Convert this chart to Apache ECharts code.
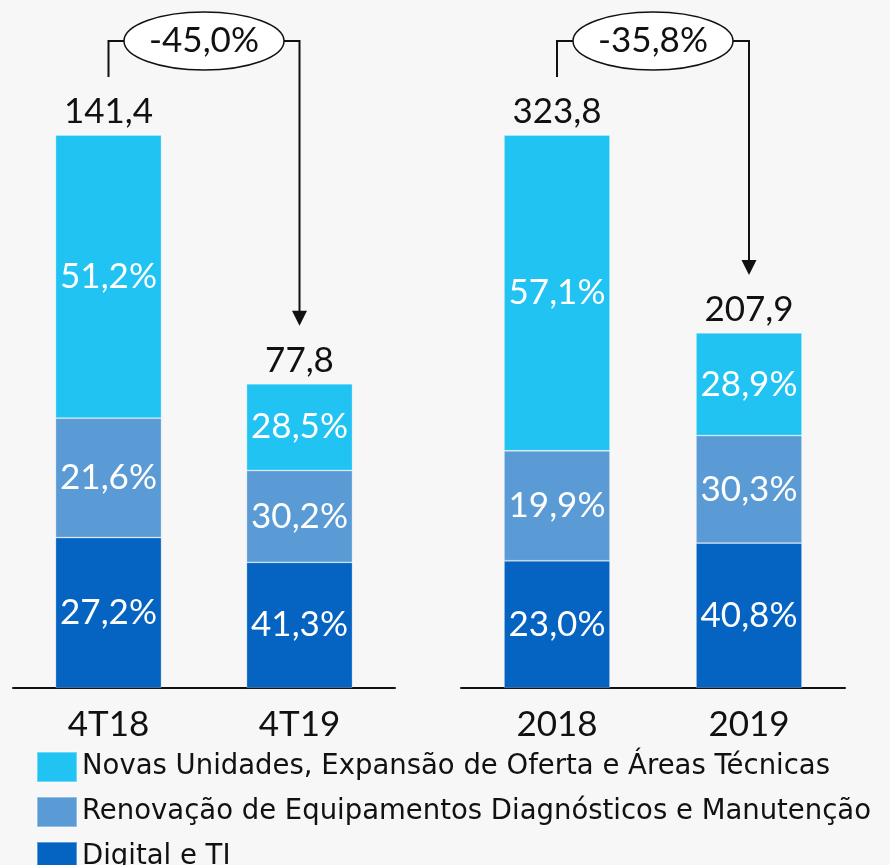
<!DOCTYPE html>
<html>
<head>
<meta charset="utf-8">
<script src="https://cdn.jsdelivr.net/npm/echarts@6/dist/echarts.min.js"></script>
<style>
  html, body { margin: 0; padding: 0; background: #f7f7f7; }
  #chart { width: 890px; height: 865px; }
</style>
</head>
<body>
<div id="chart"></div>
<script>
// valores (R$ milhões e % de participação)
const quarterCategories = ['4T18', '4T19']
const yearCategories = ['2018', '2019']
const quarterTotals = [141.4, 77.8]
const yearTotals = [323.8, 207.9]
const novasPct = [51.2, 28.5, 57.1, 28.9]
const renovacaoPct = [21.6, 30.2, 19.9, 30.3]
const digitalPct = [27.2, 41.3, 23.0, 40.8]
const variations = ['-45,0%', '-35,8%']

const seriesNames = [
  'Novas Unidades, Expansão de Oferta e Áreas Técnicas',
  'Renovação de Equipamentos Diagnósticos e Manutenção',
  'Digital e TI'
]
const colors = ['#21c3f3', '#5b9bd5', '#0563c1']
const fontFamily = "'Century Gothic', Lato, sans-serif"
const legendFont = "'Century Gothic', 'DejaVu Sans', sans-serif"
const labelSize = 35

const fmt = v => v.toFixed(1).replace('.', ',')

const chart = echarts.init(document.getElementById('chart'))

function buildSeries(gridIndex, totals, offset) {
  const pctLists = [novasPct, renovacaoPct, digitalPct]
  const list = []
  // empilha de baixo para cima: Digital, Renovação, Novas
  ;[2, 1, 0].forEach(k => {
    const pcts = pctLists[k].slice(offset, offset + 2)
    list.push({
      name: seriesNames[k],
      type: 'bar',
      stack: 'g' + gridIndex,
      xAxisIndex: gridIndex,
      yAxisIndex: gridIndex,
      barWidth: 106,
      itemStyle: { color: colors[k], borderColor: 'rgba(255,255,255,0.35)', borderWidth: 0.8 },
      label: {
        show: true,
        position: 'inside',
        color: '#fff',
        fontFamily,
        fontSize: labelSize,
        formatter: p => fmt(pcts[p.dataIndex]) + '%'
      },
      data: totals.map((t, i) => t * pcts[i] / 100)
    })
  })
  // série vazia só para o rótulo do total
  list.push({
    name: 'total' + gridIndex,
    type: 'bar',
    stack: 'g' + gridIndex,
    xAxisIndex: gridIndex,
    yAxisIndex: gridIndex,
    barWidth: 106,
    silent: true,
    itemStyle: { color: 'transparent' },
    label: {
      show: true,
      position: 'top',
      distance: 6,
      color: '#111',
      fontFamily,
      fontSize: labelSize,
      formatter: p => fmt(totals[p.dataIndex])
    },
    data: totals.map(() => 0)
  })
  return list
}

function xAxisFor(gridIndex, data) {
  return {
    type: 'category',
    gridIndex,
    data,
    axisLine: { lineStyle: { color: '#111', width: 2 } },
    axisTick: { show: false },
    axisLabel: { color: '#111', fontFamily, fontSize: labelSize, margin: 19 }
  }
}

function yAxisFor(gridIndex, max) {
  return { type: 'value', gridIndex, min: 0, max, show: false, splitLine: { show: false } }
}

// uma legenda por linha, para não quebrar em colunas
const legends = seriesNames.map((name, i) => ({
  data: [name],
  left: 31,
  top: 746 + i * 45,
  itemWidth: 40,
  itemHeight: 30,
  itemGap: 11,
  icon: 'rect',
  selectedMode: false,
  textStyle: { color: '#111', fontFamily: legendFont, fontSize: 27.5 }
}))

chart.setOption({
  backgroundColor: '#f7f7f7',
  animation: false,
  legend: legends,
  grid: [
    { left: 13, width: 382, top: 135, bottom: 177 },
    { left: 461, width: 384, top: 135, bottom: 177 }
  ],
  xAxis: [xAxisFor(0, quarterCategories), xAxisFor(1, yearCategories)],
  yAxis: [yAxisFor(0, quarterTotals[0]), yAxisFor(1, yearTotals[0])],
  series: buildSeries(0, quarterTotals, 0).concat(buildSeries(1, yearTotals, 2))
})

// colchetes com a variação entre os períodos
function bracket(gridIndex, totals, text) {
  const a = chart.convertToPixel({ gridIndex }, [0, totals[0]])
  const b = chart.convertToPixel({ gridIndex }, [1, totals[1]])
  const yTop = 41
  const rx = 80
  const ry = 29
  const cx = (a[0] + b[0]) / 2
  const tip = b[1] - 58
  const line = { stroke: '#111', lineWidth: 2, fill: null }
  return [
    { type: 'polyline', shape: { points: [[a[0], a[1] - 58], [a[0], yTop], [cx - rx, yTop]] }, style: line },
    { type: 'polyline', shape: { points: [[cx + rx, yTop], [b[0], yTop], [b[0], tip - 12]] }, style: line },
    { type: 'polygon', shape: { points: [[b[0] - 7.5, tip - 15], [b[0] + 7.5, tip - 15], [b[0], tip]] }, style: { fill: '#111' } },
    { type: 'ellipse', shape: { cx, cy: yTop, rx, ry }, style: { fill: '#fff', stroke: '#111', lineWidth: 1.5 } },
    {
      type: 'text',
      x: cx,
      y: yTop,
      style: { text, fill: '#111', font: labelSize + 'px ' + fontFamily, align: 'center', verticalAlign: 'middle' }
    }
  ]
}

chart.setOption({
  graphic: bracket(0, quarterTotals, variations[0]).concat(bracket(1, yearTotals, variations[1]))
})
</script>
</body>
</html>
